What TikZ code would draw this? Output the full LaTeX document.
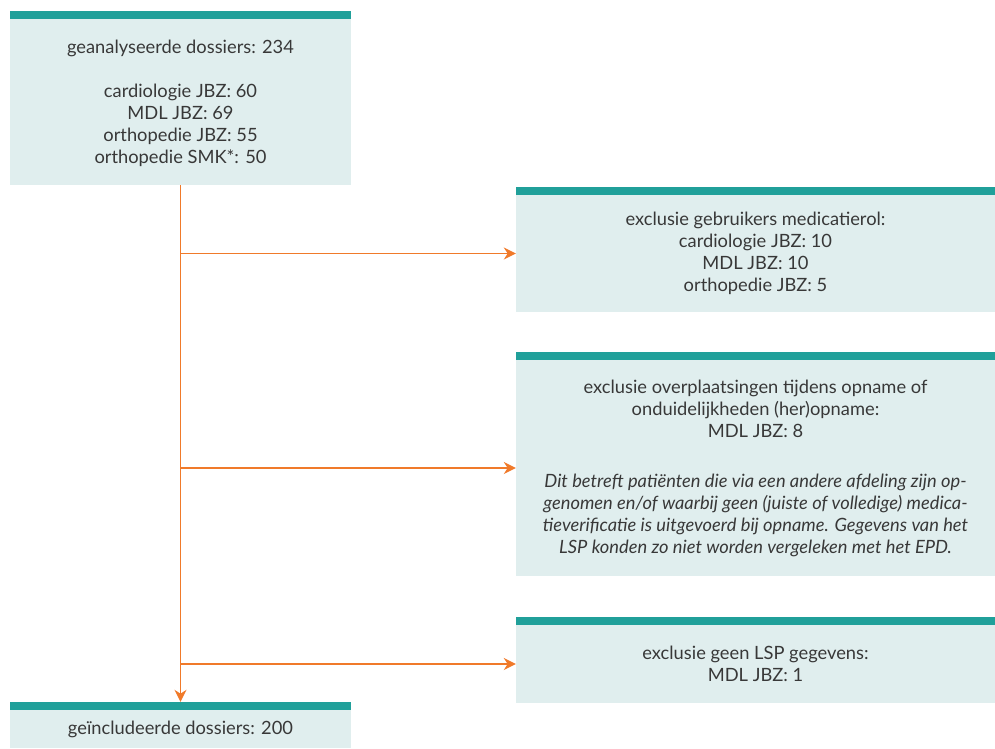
\documentclass[tikz,border=0pt]{standalone}
\usepackage{fontspec}
\setmainfont{Lato}
\usetikzlibrary{arrows.meta}
\definecolor{barteal}{HTML}{20A09A}
\definecolor{boxfill}{HTML}{E0EEEE}
\definecolor{flow}{HTML}{F07A2A}
\definecolor{txt}{HTML}{383838}
\begin{document}
\begin{tikzpicture}[x=1pt,y=-1pt,
  body/.style={fill=boxfill, inner sep=0pt, align=center, text=txt,
    font=\fontsize{18.3pt}{22pt}\selectfont},
  arr/.style={draw=flow, line width=1.5pt, -{Stealth[length=12pt,width=12pt]}}]
\useasboundingbox (0,0) rectangle (995,748);
% bodies
\node[body, minimum width=341pt, minimum height=166pt, text depth=-4pt] (start) at (180.5,102)
  {geanalyseerde dossiers: 234\\[22pt] cardiologie JBZ: 60\\ MDL JBZ: 69\\ orthopedie JBZ: 55\\ orthopedie SMK*: 50};
\node[body, minimum width=479pt, minimum height=117pt] (ex1) at (755.5,253.5)
  {exclusie gebruikers medicatierol:\\ cardiologie JBZ: 10\\ MDL JBZ: 10\\ orthopedie JBZ: 5};
\node[body, minimum width=479pt, minimum height=216pt] (ex2) at (755.5,468)
  {exclusie overplaatsingen tijdens opname of\\ onduidelijkheden (her)opname:\\ MDL JBZ: 8\\[28pt]
   \itshape Dit betreft patiënten die via een andere afdeling zijn op-\\
   \itshape genomen en/of waarbij geen (juiste of volledige) medica-\\
   \itshape tieverificatie is uitgevoerd bij opname. Gegevens van het\\
   \itshape LSP konden zo niet worden vergeleken met het EPD.};
\node[body, minimum width=479pt, minimum height=78pt] (ex3) at (755.5,664)
  {exclusie geen LSP gegevens:\\ MDL JBZ: 1};
\node[body, minimum width=341pt, minimum height=38pt] (end) at (180.5,729)
  {geïncludeerde dossiers: 200};
% top bars
\foreach \n in {start,ex1,ex2,ex3,end}
  \fill[barteal] (\n.north west) rectangle ([yshift=8pt]\n.north east);
% connectors
\coordinate (endtop) at ([yshift=8pt]end.north);
\draw[arr] (start.south) -- (endtop);
\draw[arr] (start.south |- ex1.west) -- (ex1.west);
\draw[arr] (start.south |- ex2.west) -- (ex2.west);
\draw[arr] (start.south |- ex3.west) -- (ex3.west);
\end{tikzpicture}
\end{document}
